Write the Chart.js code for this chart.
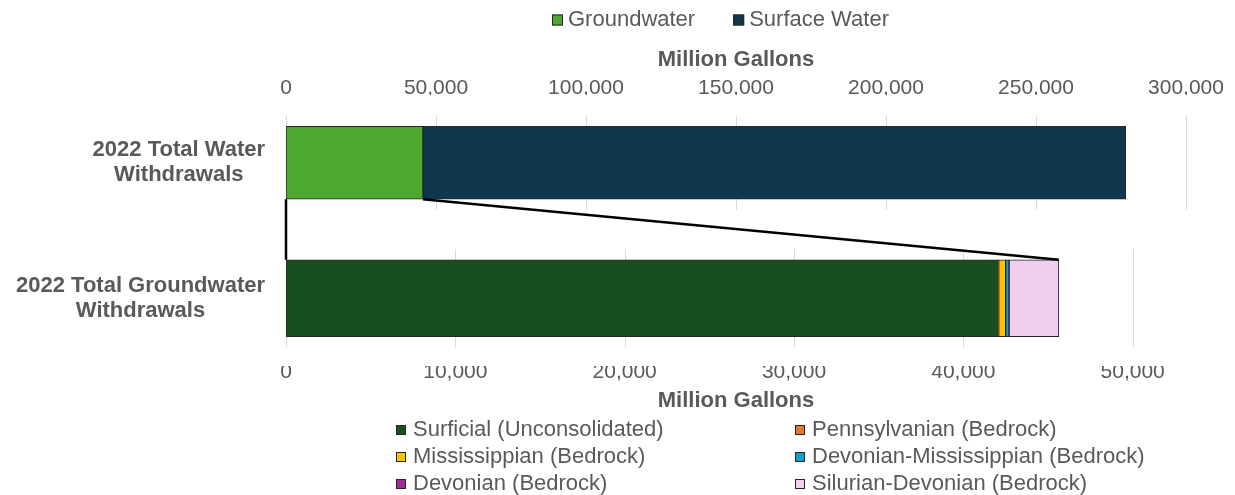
<!DOCTYPE html>
<html><head><meta charset="utf-8">
<script src="https://cdn.jsdelivr.net/npm/chart.js@4.4.1/dist/chart.umd.min.js"></script>
<style>html,body{margin:0;padding:0;background:#fff}#wrap{width:1235px;height:495px;position:relative}</style>
</head><body><div id="wrap"><canvas id="c"></canvas></div>
<script>
// ---- data ----
const categories = [['2022 Total Water', 'Withdrawals'], ['2022 Total Groundwater', 'Withdrawals']];
const totalSeriesNames = ['Groundwater', 'Surface Water'];
const totalSeriesValues = [45640, 234280];
const aquiferNames = ['Surficial (Unconsolidated)', 'Pennsylvanian (Bedrock)', 'Mississippian (Bedrock)',
  'Devonian-Mississippian (Bedrock)', 'Devonian (Bedrock)', 'Silurian-Devonian (Bedrock)'];
const aquiferValues = [42070, 20, 410, 200, 10, 2930];
const topTicks = [0, 50000, 100000, 150000, 200000, 250000, 300000];
const bottomTicks = [0, 10000, 20000, 30000, 40000, 50000];
const bottomAxisMax = 53150;
const axisTitle = 'Million Gallons';

// ---- styles ----
const FONT = '"Liberation Sans", Arial, sans-serif';
const TXT = '#595959';
const totalColors = ['#4EA72E', '#0F384C'];
const aquiferColors = ['#194F1E', '#E97132', '#FFC000', '#0F9ED5', '#A02B93', '#F2CEEF'];

const common = { borderColor: '#262626', borderWidth: 1, borderSkipped: false, grouped: false };
const datasets = [];
totalSeriesNames.forEach((n, i) => datasets.push(Object.assign({
  label: n, data: [totalSeriesValues[i], null], backgroundColor: totalColors[i],
  xAxisID: 'xTop', barThickness: 73, legendGroup: 'top'
}, common)));
aquiferNames.forEach((n, i) => datasets.push(Object.assign({
  label: n, data: [null, aquiferValues[i]], backgroundColor: aquiferColors[i],
  xAxisID: 'xBottom', barThickness: 77, legendGroup: 'bottom'
}, common)));

const fmt = v => Number(v).toLocaleString('en-US');

const customDraw = {
  id: 'customDraw',
  beforeDatasetsDraw(chart) {
    const ctx = chart.ctx, ys = chart.scales.y;
    const bands = [
      { scale: chart.scales.xTop, yc: ys.getPixelForValue(0), half: 47 },
      { scale: chart.scales.xBottom, yc: ys.getPixelForValue(1), half: 49 }
    ];
    ctx.save();
    ctx.strokeStyle = '#D9D9D9';
    ctx.lineWidth = 1;
    bands.forEach(b => {
      b.scale.ticks.forEach(t => {
        const x = Math.round(b.scale.getPixelForValue(t.value)) + 0.5;
        ctx.beginPath();
        ctx.moveTo(x, b.yc - b.half);
        ctx.lineTo(x, b.yc + b.half);
        ctx.stroke();
      });
    });
    ctx.restore();
  },
  afterDatasetsDraw(chart) {
    const ctx = chart.ctx;
    const xTop = chart.scales.xTop;
    const gwBar = chart.getDatasetMeta(0).data[0];
    const lastBottom = chart.getDatasetMeta(datasets.length - 1).data[1];
    const topBottomY = gwBar.y + gwBar.height / 2;
    const botTopY = lastBottom.y - lastBottom.height / 2;
    const x0 = xTop.getPixelForValue(0);
    ctx.save();
    ctx.strokeStyle = '#000';
    ctx.lineWidth = 2.5;
    ctx.beginPath();
    ctx.moveTo(x0, topBottomY); ctx.lineTo(x0, botTopY);
    ctx.moveTo(gwBar.x, topBottomY); ctx.lineTo(lastBottom.x, botTopY);
    ctx.stroke();
    ctx.restore();
  },
  afterDraw(chart) {
    const ctx = chart.ctx, ys = chart.scales.y;
    ctx.save();
    // category labels
    ctx.font = 'bold 22px ' + FONT;
    ctx.fillStyle = TXT;
    ctx.textBaseline = 'middle';
    ctx.textAlign = 'center';
    categories.forEach((lines, i) => {
      const yc = ys.getPixelForValue(i);
      const w = Math.max(...lines.map(l => ctx.measureText(l).width));
      const cx = 265 - w / 2;
      lines.forEach((l, j) => ctx.fillText(l, cx, yc + (j - (lines.length - 1) / 2) * 25));
    });
    // legends
    ctx.font = '22px ' + FONT;
    ctx.textAlign = 'left';
    const drawItem = (x, y, size, color, text, gap) => {
      ctx.fillStyle = color;
      ctx.fillRect(x, y - size / 2, size, size);
      ctx.strokeStyle = '#262626';
      ctx.lineWidth = 1;
      ctx.strokeRect(x + 0.5, y - size / 2 + 0.5, size - 1, size - 1);
      ctx.fillStyle = TXT;
      ctx.fillText(text, x + size + gap, y);
      return x + size + gap + ctx.measureText(text).width;
    };
    const topItems = chart.data.datasets.filter(d => d.legendGroup === 'top');
    let x = 552;
    topItems.forEach(d => { x = drawItem(x, 20, 11, d.backgroundColor, d.label, 5) + 38; });
    const botItems = chart.data.datasets.filter(d => d.legendGroup === 'bottom');
    const cols = [396, 795], rows = [430, 457, 484];
    botItems.forEach((d, i) => {
      drawItem(cols[i % 2], rows[Math.floor(i / 2)], 10, d.backgroundColor, d.label, 7);
    });
    ctx.restore();
  }
};

const axisCommon = (pos, max, tickList) => ({
  type: 'linear', position: pos, axis: 'x', stacked: true, min: 0, max: max,
  grid: { display: false, drawTicks: false }, border: { display: false },
  ticks: { padding: -6, color: TXT, font: { family: FONT, size: 21 }, callback: v => fmt(v) },
  title: { display: true, text: axisTitle, color: TXT, padding: 0, font: { family: FONT, size: 22, weight: 'bold' } },
  afterBuildTicks: s => { s.ticks = tickList.map(v => ({ value: v })); },
  afterFit: s => { s.height = 48.2; }
});

new Chart(document.getElementById('c'), {
  type: 'bar',
  data: { labels: categories, datasets: datasets },
  options: {
    indexAxis: 'y', responsive: true, maintainAspectRatio: false, animation: false,
    layout: { padding: { top: 46.8, bottom: 80.8, left: 286, right: 49 } },
    plugins: { legend: { display: false }, tooltip: { enabled: false } },
    scales: {
      y: { type: 'category', display: false, stacked: true, offset: true },
      xTop: axisCommon('top', topTicks[topTicks.length - 1], topTicks),
      xBottom: axisCommon('bottom', bottomAxisMax, bottomTicks)
    }
  },
  plugins: [customDraw]
});
</script></body></html>
